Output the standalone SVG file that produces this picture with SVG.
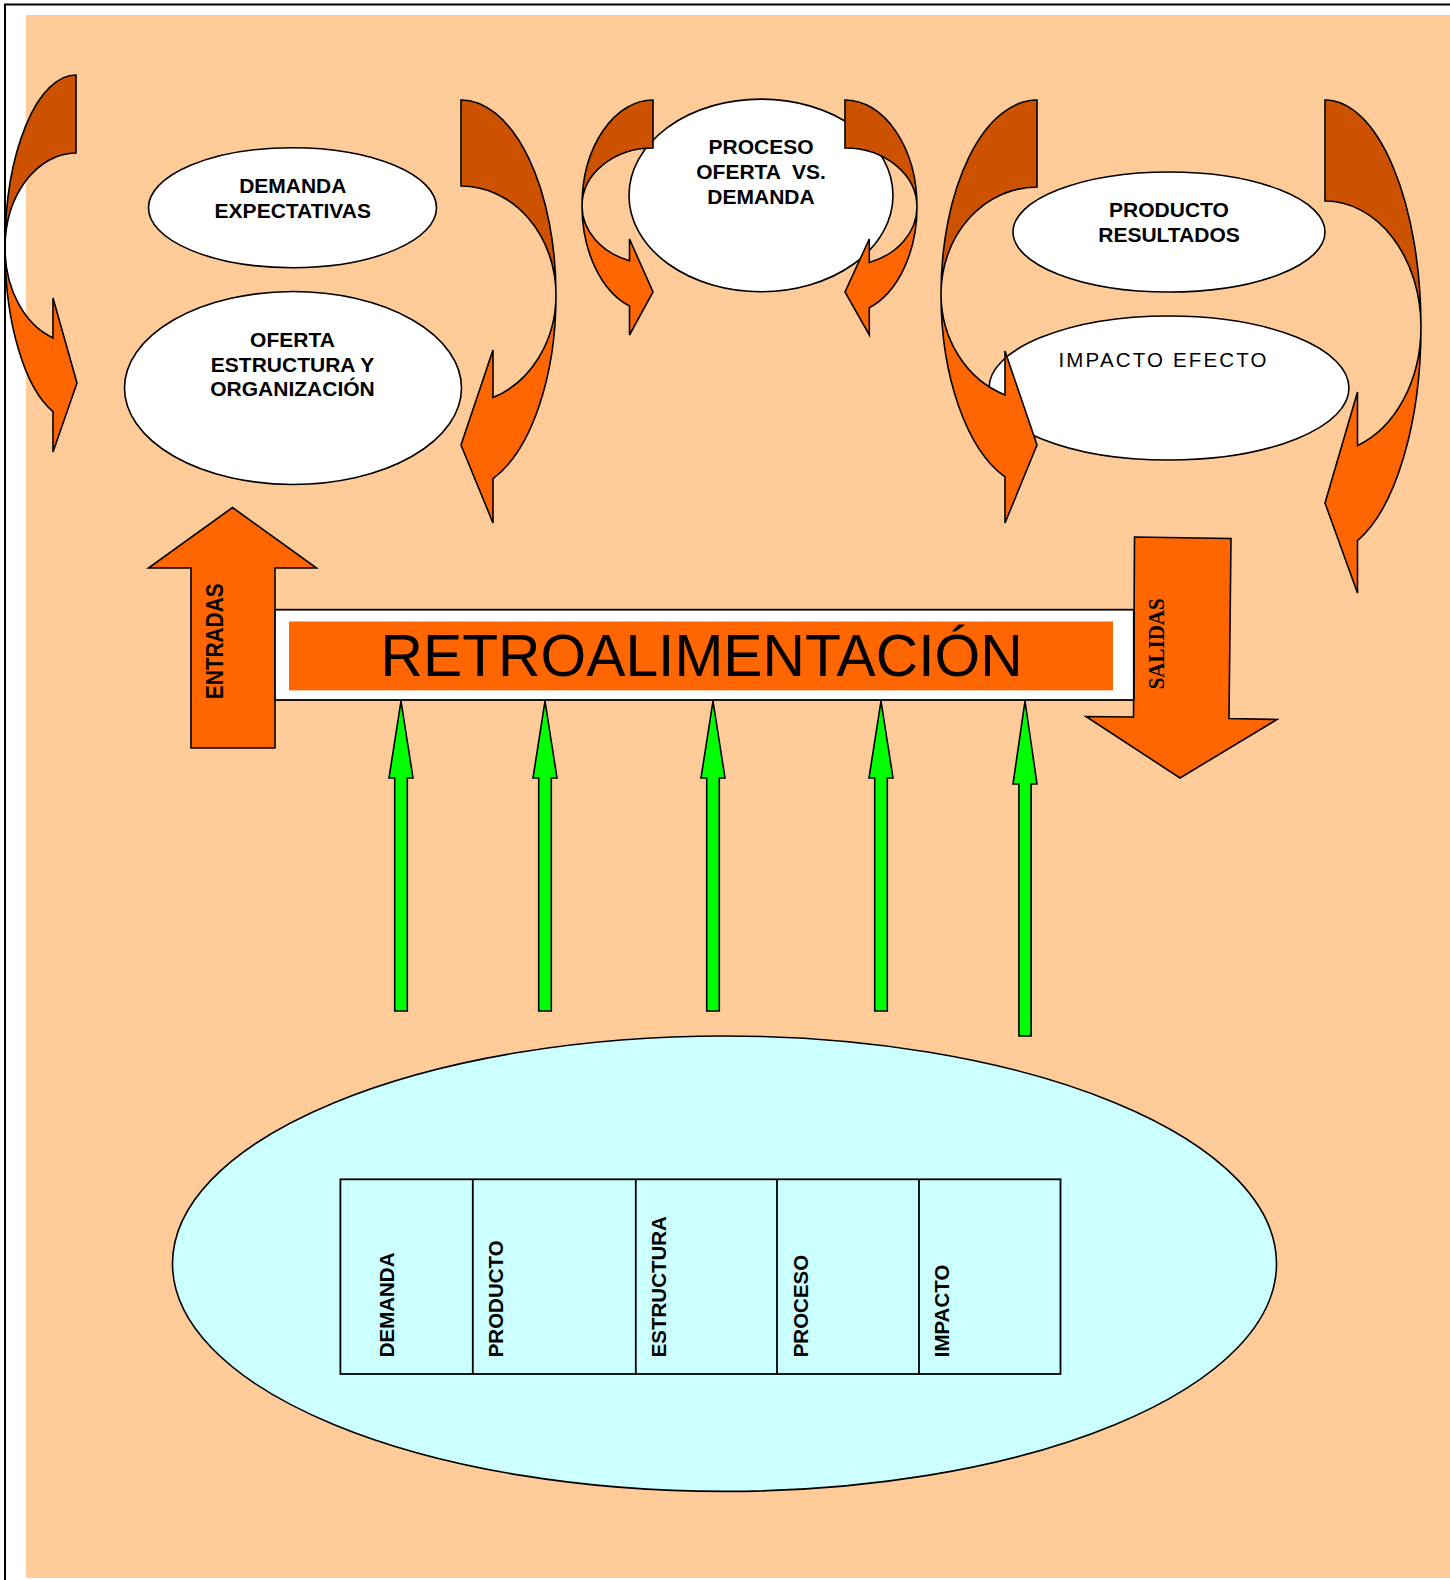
<svg xmlns="http://www.w3.org/2000/svg" width="1450" height="1580" viewBox="0 0 1450 1580">
  <style>
    .ov { fill: #ffffff; stroke: #000000; stroke-width: 1.6; }
    .back { fill: #cc5200; stroke: #000000; stroke-width: 1.6; stroke-linejoin: miter; }
    .front { fill: #ff6600; stroke: #000000; stroke-width: 1.6; stroke-linejoin: miter; }
    .green { fill: #00ff00; stroke: #000000; stroke-width: 1.6; }
    .lbl { font-family: "Liberation Sans", Arial, sans-serif; font-weight: bold; font-size: 21px; fill: #000000; text-anchor: middle; }
    .lbl-r { font-family: "Liberation Sans", Arial, sans-serif; font-size: 20.5px; fill: #000000; }
    .col { font-family: "Liberation Sans", Arial, sans-serif; font-weight: bold; font-size: 20.5px; fill: #000000; }
    .cell { fill: none; stroke: #000000; stroke-width: 1.8; }
  </style>

  <!-- page -->
  <rect x="0" y="0" width="1450" height="1580" fill="#ffffff"/>
  <rect x="26" y="15" width="1424" height="1563" fill="#ffcc99"/>
  <path d="M5,1580 V4.5 H1450" fill="none" stroke="#000000" stroke-width="2"/>

  <!-- white ovals of the upper cycle -->
  <g id="demanda-expectativas">
    <ellipse class="ov" cx="292.5" cy="207.7" rx="144" ry="60"/>
    <text class="lbl" x="292.8" y="193.4">DEMANDA</text>
    <text class="lbl" x="292.8" y="218">EXPECTATIVAS</text>
  </g>
  <g id="oferta-estructura">
    <ellipse class="ov" cx="293" cy="388" rx="168.5" ry="96.5"/>
    <text class="lbl" x="292.5" y="346.5">OFERTA</text>
    <text class="lbl" x="292.5" y="371.5">ESTRUCTURA Y</text>
    <text class="lbl" x="292.5" y="396">ORGANIZACIÓN</text>
  </g>
  <g id="proceso">
    <ellipse class="ov" cx="761" cy="195.4" rx="132" ry="96.3"/>
    <text class="lbl" x="761" y="154">PROCESO</text>
    <text class="lbl" x="761" y="179.3" xml:space="preserve" style="white-space:pre">OFERTA  VS.</text>
    <text class="lbl" x="761" y="204">DEMANDA</text>
  </g>
  <g id="producto-resultados">
    <ellipse class="ov" cx="1169" cy="232" rx="156" ry="60"/>
    <text class="lbl" x="1169" y="216.7">PRODUCTO</text>
    <text class="lbl" x="1169" y="241.7">RESULTADOS</text>
  </g>
  <g id="impacto-efecto">
    <ellipse class="ov" cx="1169" cy="388" rx="180" ry="72"/>
    <text class="lbl-r" x="1058.5" y="367.3" textLength="208" lengthAdjust="spacing">IMPACTO EFECTO</text>
  </g>

  <g id="connectors">
    <!-- curved arrows around each pair of ovals -->
    <g id="curve-l1">
      <path class="back" d="M76,75 A71,173 0 0 0 5,248 A71,95 0 0 1 76,153 Z"/>
      <path class="front" d="M5,248 A71,173 0 0 0 53,411.7 L53,452 L77,383 L53,298 L53,337.9 A71,95 0 0 1 5,248 Z"/>
    </g>
    <g id="curve-r1">
      <path class="back" d="M461,100 A95,195 0 0 1 556,295 A95,109 0 0 0 461,186 Z"/>
      <path class="front" d="M556,295 A95,195 0 0 1 493,478.6 L493,523 L461,445 L493,350 L493,397.6 A95,109 0 0 0 556,295 Z"/>
    </g>
    <g id="curve-l2">
      <path class="back" d="M653,100 A71,106 0 0 0 582,206 A71,58 0 0 1 653,148 Z"/>
      <path class="front" d="M582,206 A71,106 0 0 0 629.5,306 L629.5,335 L653,292 L629.5,239 L629.5,260.7 A71,58 0 0 1 582,206 Z"/>
    </g>
    <g id="curve-r2">
      <path class="back" d="M845,100 A72,107 0 0 1 917,207 A72,59 0 0 0 845,148 Z"/>
      <path class="front" d="M917,207 A72,107 0 0 1 869.3,307.7 L869.3,335 L845,292 L869.3,239 L869.3,262.5 A72,59 0 0 0 917,207 Z"/>
    </g>
    <g id="curve-l3">
      <path class="back" d="M1037,100 A96,194 0 0 0 941,294 A96,107 0 0 1 1037,187 Z"/>
      <path class="front" d="M941,294 A96,194 0 0 0 1005,476.9 L1005,523 L1037,445 L1005,351 L1005,394.9 A96,107 0 0 1 941,294 Z"/>
    </g>
    <g id="curve-r3">
      <path class="back" d="M1325,100 A96,227 0 0 1 1421,327 A96,126 0 0 0 1325,201 Z"/>
      <path class="front" d="M1421,327 A96,227 0 0 1 1357.5,540.6 L1357.5,593 L1325,503 L1357.5,392 L1357.5,445.6 A96,126 0 0 0 1421,327 Z"/>
    </g>

    <!-- green feedback arrows -->
    <polygon class="green" points="401,701 413,778 407.3,778 407.3,1011 394.7,1011 394.7,778 389,778"/>
    <polygon class="green" points="545,701 557,778 551.3,778 551.3,1011 538.7,1011 538.7,778 533,778"/>
    <polygon class="green" points="713,701 725,778 719.3,778 719.3,1011 706.7,1011 706.7,778 701,778"/>
    <polygon class="green" points="881,701 893,778 887.3,778 887.3,1011 874.7,1011 874.7,778 869,778"/>
    <polygon class="green" points="1025,701 1037,784 1031.1,784 1031.1,1036 1018.9,1036 1018.9,784 1013,784"/>
  </g>

  <!-- inputs / outputs block arrows -->
  <g id="entradas">
    <polygon class="front" points="232.5,507.5 316.5,568 275,568 275,748 191,748 191,568 148.5,568"/>
    <text class="col" font-size="23" transform="translate(222.7,699.3) rotate(-90)" textLength="116" lengthAdjust="spacingAndGlyphs" style="font-size:23px">ENTRADAS</text>
  </g>
  <g id="salidas">
    <polygon class="front" points="1134.5,537 1231,538.5 1229,718.5 1277,719.5 1180,778 1086,716.5 1133.5,717"/>
    <text transform="translate(1164,689.3) rotate(-90)" textLength="91" lengthAdjust="spacingAndGlyphs" style="font-family:'Liberation Serif','Times New Roman',serif;font-weight:bold;font-size:23.5px" fill="#000000">SALIDAS</text>
  </g>

  <g id="retroalimentacion">
    <rect x="275" y="609.7" width="858.8" height="90.3" fill="#ffffff" stroke="#000000" stroke-width="1.8"/>
    <rect x="289" y="621.5" width="824" height="68.8" fill="#ff6600"/>
    <text x="380.6" y="676" textLength="642" lengthAdjust="spacingAndGlyphs" style="font-family:'Liberation Sans',Arial,sans-serif;font-size:59px" fill="#000000">RETROALIMENTACIÓN</text>
  </g>

  <!-- base oval with the five dimensions -->
  <g id="dimensiones">
    <ellipse cx="724.5" cy="1263.7" rx="552" ry="227.7" fill="#ccffff" stroke="#000000" stroke-width="1.6"/>
    <rect class="cell" x="340.4" y="1179.3" width="720.1" height="194.7"/>
    <line class="cell" x1="472.8" y1="1179.3" x2="472.8" y2="1374"/>
    <line class="cell" x1="635.8" y1="1179.3" x2="635.8" y2="1374"/>
    <line class="cell" x1="777" y1="1179.3" x2="777" y2="1374"/>
    <line class="cell" x1="919" y1="1179.3" x2="919" y2="1374"/>
    <text class="col" transform="translate(393.5,1357.3) rotate(-90)">DEMANDA</text>
    <text class="col" transform="translate(503,1357.3) rotate(-90)">PRODUCTO</text>
    <text class="col" transform="translate(666.3,1357.3) rotate(-90)">ESTRUCTURA</text>
    <text class="col" transform="translate(808,1357.3) rotate(-90)">PROCESO</text>
    <text class="col" transform="translate(948.8,1357.3) rotate(-90)">IMPACTO</text>
  </g>
</svg>
